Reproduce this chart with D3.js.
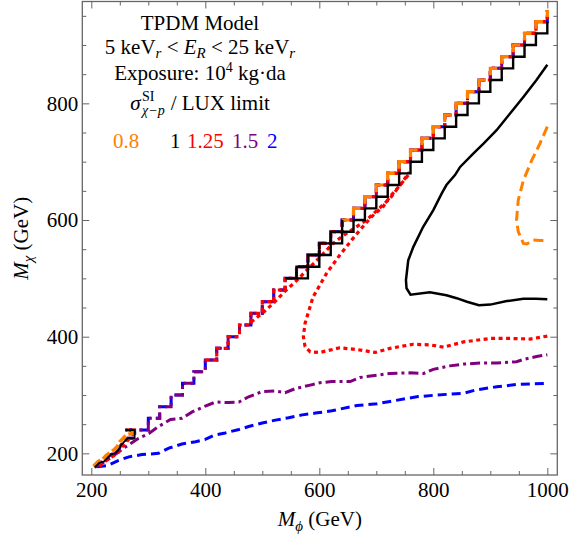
<!DOCTYPE html>
<html>
<head>
<meta charset="utf-8">
<script src="https://cdn.jsdelivr.net/npm/d3@7"></script>
<style>
  body { margin: 0; background: #fff; }
  svg { display: block; }
  text { font-family: "Liberation Serif", "Times New Roman", serif; }
</style>
</head>
<body>
<svg id="chart" width="569" height="539"></svg>
<script>
// ---- axis ranges and ticks ----
const phiDomain = [184.2, 1017.5];
const chiDomain = [162.9, 974.6];
const phiMajor = [200, 400, 600, 800, 1000];
const phiMinor = [250, 300, 350, 450, 500, 550, 650, 700, 750, 850, 900, 950];
const chiMajor = [200, 400, 600, 800];
const chiMinor = [250, 300, 350, 450, 500, 550, 650, 700, 750, 850, 900, 950];

// ---- contour levels (cross section / LUX limit) ----
const levelLabels = ["0.8", "1", "1.25", "1.5", "2"];
const levelColors = ["#ff8000", "#000000", "#ff0000", "#800080", "#0000ff"];

// ---- kinematic edge: staircase corners on the 20 GeV grid ----
const stairPhi = [260, 300, 320, 340, 360, 380, 400, 420, 440, 460, 480, 500, 520, 540, 560, 580, 600, 620,
                  640, 660, 680, 700, 720, 740, 760, 780, 800, 820, 840, 860, 880, 900, 920, 940, 960, 980, 1000];
const stairChi = [240, 260, 280, 300, 320, 340, 360, 380, 400, 420, 440, 460, 480, 500, 520, 540, 560, 580,
                  600, 620, 640, 660, 680, 700, 720, 740, 760, 780, 800, 820, 840, 860, 880, 900, 920, 940, 960];

// level 1: closed cells along the edge
const blackEdgePhi = [540, 560, 580, 600, 620, 640];
const blackEdgeChi = [500, 520, 540, 560, 580, 600];
const blackLowerPhi = [560, 580, 600, 620, 640, 660, 680, 700, 720, 740, 760, 780, 800, 820, 840, 860, 880,
                       900, 920, 940, 960, 980, 1000];
const blackLowerChi = [500, 520, 540, 560, 580, 600, 620, 640, 660, 680, 700, 720, 740, 760, 780, 800, 820,
                       840, 860, 880, 900, 920, 940];

// low-mass tip of each contour
const tipOrangePhi = [204, 212, 220, 226, 234, 240, 246, 250, 256, 262, 272, 274, 262];
const tipOrangeChi = [178, 186, 190, 196, 202, 206, 212, 220, 226, 232, 234, 240, 240];
const tipBlackPhi  = [206, 214, 222, 228, 234, 242, 248, 252, 258, 264, 276, 276, 260];
const tipBlackChi  = [176, 184, 186, 192, 198, 200, 206, 214, 220, 226, 226, 240, 240];
const tipRedPhi    = [214, 224, 236, 246, 254, 262, 271, 276];
const tipRedChi    = [178, 186, 194, 200, 211, 220, 230, 240];

// level 0.8: interior contour
const orangeInnerPhi = [1000, 987, 973, 958, 949, 946, 949, 958, 964, 975, 988, 1000];
const orangeInnerChi = [760, 731, 703, 668, 634, 600, 580, 560, 559, 566, 565, 565];

// level 1: interior contour
const blackInnerPhi = [1000, 981, 958, 935, 911, 888, 870, 847, 838, 823, 815, 800, 782, 765, 756, 752, 753, 760,
                       794, 823, 841, 859, 880, 900, 929, 958, 980, 1000];
const blackInnerChi = [866, 840, 811, 783, 754, 731, 714, 691, 677, 660, 646, 617, 588, 554, 531, 497, 483, 472,
                       476, 471, 466, 460, 454, 455, 461, 465, 465, 464];

// level 1.25: interior contour and the strand beside the edge
const redInnerPhi = [1000, 970, 935, 900, 853, 818, 794, 765, 724, 698, 666, 636, 601, 584, 575, 572, 575, 589,
                     613, 636, 657, 674, 692, 712, 724, 742, 760];
const redInnerChi = [401, 396, 397, 397, 391, 382, 386, 387, 380, 373, 378, 381, 373, 374, 383, 400, 423, 468,
                     509, 540, 566, 586, 606, 623, 640, 660, 682];
const redStrandPhi = [480, 500, 520, 540, 560, 580, 600, 622, 640, 657, 683, 705, 724, 742, 758];
const redStrandChi = [425, 440, 458, 478, 496, 516, 535, 558, 572, 583, 600, 620, 637, 660, 682];

// level 1.5: lower contour
const purpleLowPhi = [207, 219, 236, 260, 283, 301, 318, 339, 359, 377, 400, 418, 441, 459, 476, 500, 523, 540,
                      558, 584, 601, 622, 654, 671, 701, 724, 759, 783, 800, 829, 853, 882, 911, 946, 958, 981, 1000];
const purpleLowChi = [177, 183, 194, 211, 226, 234, 246, 258, 260, 271, 281, 288, 287, 288, 297, 306, 307, 304,
                      311, 317, 321, 323, 323, 330, 334, 337, 338, 337, 344, 350, 353, 355, 355, 357, 361, 366, 369];

// level 2: lower contour
const blueLowPhi = [210, 228, 248, 266, 289, 318, 336, 359, 383, 400, 415, 435, 459, 476, 500, 523, 546, 570, 593,
                    622, 666, 701, 724, 771, 806, 853, 876, 911, 946, 1000];
const blueLowChi = [177, 179, 188, 194, 198, 200, 209, 216, 220, 224, 231, 235, 241, 246, 252, 257, 261, 266, 269,
                    273, 282, 285, 289, 297, 300, 303, 309, 314, 318, 320];

// ---- layout ----
const svg = d3.select("#chart");
const W = 569, H = 539;
const plot = { left: 82.3, right: 557.3, top: 1.5, bottom: 475 };
const frameColor = "#666";

svg.append("rect").attr("width", W).attr("height", H).attr("fill", "#fff");

const x = d3.scaleLinear().domain(phiDomain).range([plot.left, plot.right]);
const y = d3.scaleLinear().domain(chiDomain).range([plot.bottom, plot.top]);

const zip = (a, b) => a.map((v, i) => [v, b[i]]);
const line = d3.line().x(d => x(d[0])).y(d => y(d[1]));
const stepLine = d3.line().x(d => x(d[0])).y(d => y(d[1])).curve(d3.curveStepAfter);

svg.append("defs").append("clipPath").attr("id", "plotClip")
  .append("rect")
  .attr("x", plot.left).attr("y", plot.top)
  .attr("width", plot.right - plot.left).attr("height", plot.bottom - plot.top);

const g = svg.append("g").attr("clip-path", "url(#plotClip)");

const edge = zip(stairPhi, stairChi);

function draw(points, color, width, dash, curved, extra) {
  const p = g.append("path")
    .attr("d", (curved ? stepLine : line)(points))
    .attr("fill", "none")
    .attr("stroke", color)
    .attr("stroke-width", width)
    .attr("stroke-linejoin", "miter")
    .attr("stroke-linecap", "butt");
  if (dash) p.attr("stroke-dasharray", dash);
  if (extra) extra(p);
  return p;
}

const [cOrange, cBlack, cRed, cPurple, cBlue] = levelColors;

// level 2 (blue, dashed)
const blueDash = "9,5";
draw(zip(blueLowPhi, blueLowChi), cBlue, 3, blueDash);
draw(zip(tipBlackPhi, tipBlackChi), cBlue, 3, blueDash);
draw(edge, cBlue, 3, blueDash, true);

// level 1.5 (purple, dash-dot)
const purpleDash = "10,4,3,4";
draw(zip(purpleLowPhi, purpleLowChi), cPurple, 3, purpleDash);
draw(zip(tipBlackPhi, tipBlackChi), cPurple, 3, purpleDash);
draw(edge, cPurple, 3, purpleDash, true);

// level 1.25 (red, dotted)
const redDash = "4,3.5";
draw(zip(redInnerPhi, redInnerChi), cRed, 3.2, redDash);
draw(zip(redStrandPhi, redStrandChi), cRed, 3.2, redDash);
draw(zip(tipRedPhi, tipRedChi), cRed, 3.2, redDash);
draw(edge.filter(d => d[0] >= 400), cRed, 3.2, redDash, true);

// level 0.8 (orange, dashed); on the edge the dashes sit on the cell corners
draw(zip(orangeInnerPhi, orangeInnerChi), cOrange, 3, "10,5");
draw(zip(tipOrangePhi, tipOrangeChi), cOrange, 3.6, "9,3");
const cellLen = (x(20) - x(0)) + (y(0) - y(20));
const cornerDash = 14;
draw(edge.filter(d => d[0] >= 640), cOrange, 3.2,
     cornerDash + "," + (cellLen - cornerDash), true,
     p => p.attr("stroke-dashoffset", cornerDash / 2));

// level 1 (black, solid)
draw(zip(blackInnerPhi, blackInnerChi), cBlack, 2.5);
draw(zip(tipBlackPhi, tipBlackChi), cBlack, 1.8);
draw(zip(blackEdgePhi, blackEdgeChi), cBlack, 2.4, null, true);
draw(zip(blackLowerPhi, blackLowerChi), cBlack, 2.4, null, true);

// ---- frame and ticks ----
const axisG = svg.append("g");
function tickAxis(axisFn, scale, values, size, labels, transform) {
  const a = axisFn(scale).tickValues(values).tickSizeInner(-size).tickSizeOuter(0);
  if (labels) a.tickPadding(axisFn === d3.axisBottom ? 7 : 4).tickFormat(d3.format("d"));
  else a.tickFormat("");
  const sel = axisG.append("g").attr("transform", transform).call(a);
  sel.select(".domain").remove();
  sel.selectAll("line").attr("stroke", frameColor).attr("stroke-width", 1);
  sel.selectAll("text").attr("font-size", 21).style("fill", "#000")
    .attr("font-family", '"Liberation Serif", "Times New Roman", serif');
  return sel;
}
tickAxis(d3.axisBottom, x, phiMajor, 7, true, `translate(0,${plot.bottom})`);
tickAxis(d3.axisBottom, x, phiMinor, 4, false, `translate(0,${plot.bottom})`);
tickAxis(d3.axisTop, x, phiMajor, 7, false, `translate(0,${plot.top})`);
tickAxis(d3.axisTop, x, phiMinor, 4, false, `translate(0,${plot.top})`);
tickAxis(d3.axisLeft, y, chiMajor, 7, true, `translate(${plot.left},0)`);
tickAxis(d3.axisLeft, y, chiMinor, 4, false, `translate(${plot.left},0)`);
tickAxis(d3.axisRight, y, chiMajor, 7, false, `translate(${plot.right},0)`);
tickAxis(d3.axisRight, y, chiMinor, 4, false, `translate(${plot.right},0)`);

svg.append("rect")
  .attr("x", plot.left).attr("y", plot.top)
  .attr("width", plot.right - plot.left).attr("height", plot.bottom - plot.top)
  .attr("fill", "none").attr("stroke", frameColor).attr("stroke-width", 1.3);

// ---- axis titles ----
const xt = svg.append("text").attr("x", (plot.left + plot.right) / 2).attr("y", 526)
  .attr("text-anchor", "middle").attr("font-size", 21);
xt.append("tspan").attr("font-style", "italic").text("M");
xt.append("tspan").attr("font-style", "italic").attr("font-size", 15).attr("dy", 5).text("ϕ");
xt.append("tspan").attr("dy", -5).text("\u00a0(GeV)");

const yt = svg.append("text")
  .attr("transform", `translate(28,${(plot.top + plot.bottom) / 2}) rotate(-90)`)
  .attr("text-anchor", "middle").attr("font-size", 21);
yt.append("tspan").attr("font-style", "italic").text("M");
yt.append("tspan").attr("font-style", "italic").attr("font-size", 15).attr("dy", 5).text("χ");
yt.append("tspan").attr("dy", -5).text("\u00a0(GeV)");

// ---- annotation block ----
const cx = 200;
svg.append("text").attr("x", cx).attr("y", 30).attr("text-anchor", "middle")
  .attr("font-size", 21).text("TPDM Model");

const l2 = svg.append("text").attr("x", cx).attr("y", 54).attr("text-anchor", "middle").attr("font-size", 21);
l2.append("tspan").text("5 keV");
l2.append("tspan").attr("font-style", "italic").attr("font-size", 15).attr("dy", 4).text("r");
l2.append("tspan").attr("dy", -4).text("\u00a0<\u00a0");
l2.append("tspan").attr("font-style", "italic").text("E");
l2.append("tspan").attr("font-style", "italic").attr("font-size", 15).attr("dy", 4).text("R");
l2.append("tspan").attr("dy", -4).text("\u00a0<\u00a025 keV");
l2.append("tspan").attr("font-style", "italic").attr("font-size", 15).attr("dy", 4).text("r");

const l3 = svg.append("text").attr("x", cx).attr("y", 80).attr("text-anchor", "middle").attr("font-size", 21);
l3.append("tspan").text("Exposure: 10");
l3.append("tspan").attr("font-size", 14).attr("dy", -8).text("4");
l3.append("tspan").attr("dy", 8).text("\u00a0kg·da");

// sigma with stacked super/subscripts, then "/ LUX limit"
const l4 = svg.append("g");
const base4 = 110;
const sig = l4.append("text").attr("x", 0).attr("y", base4).attr("font-size", 21)
  .attr("font-style", "italic").text("σ");
const sw = sig.node().getComputedTextLength() + 1.5;
const sup = l4.append("text").attr("x", sw).attr("y", base4 - 9).attr("font-size", 14).text("SI");
const sub = l4.append("text").attr("x", sw).attr("y", base4 + 5).attr("font-size", 14)
  .attr("font-style", "italic").text("χ−p");
const scriptW = Math.max(sup.node().getComputedTextLength(), sub.node().getComputedTextLength()) + 6;
const rest = l4.append("text").attr("x", sw + scriptW).attr("y", base4).attr("font-size", 21).text("/ LUX limit");
const totalW = sw + scriptW + rest.node().getComputedTextLength();
l4.attr("transform", `translate(${cx - totalW / 2},0)`);

// level legend row
const legendX = [113, 170, 187, 232, 267];
svg.append("g").selectAll("text")
  .data(levelLabels)
  .join("text")
  .attr("x", (d, i) => legendX[i])
  .attr("y", 148)
  .attr("font-size", 21)
  .style("fill", (d, i) => levelColors[i])
  .text(d => d);
</script>
</body>
</html>
